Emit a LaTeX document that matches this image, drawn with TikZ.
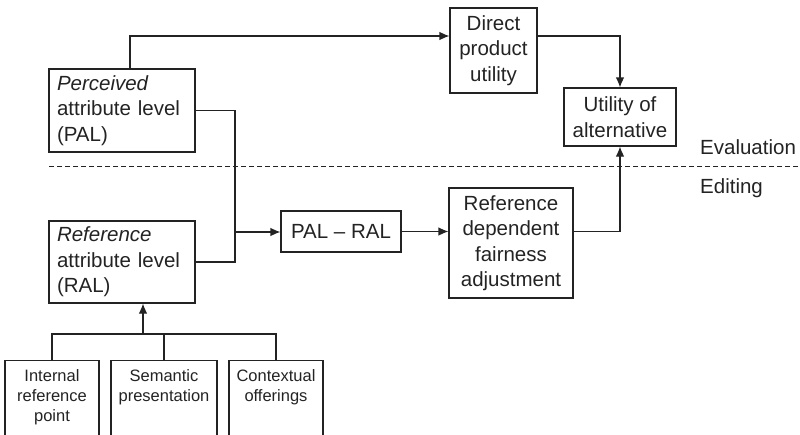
\documentclass[tikz,border=0pt]{standalone}
\usepackage{fontspec}
\setmainfont{Liberation Sans}
\usetikzlibrary{arrows.meta}

\definecolor{ink}{RGB}{35,35,35}
\newcommand{\bigtxt}{\fontsize{20.5pt}{25.5pt}\selectfont}
\newcommand{\smalltxt}{\fontsize{16.5pt}{20pt}\selectfont}

\tikzset{
    box/.style={draw=ink, text=ink, line width=1.1pt, inner sep=0pt, font=\bigtxt, align=center},
    lowbox/.style={draw=ink, text=ink, line width=1.1pt, inner xsep=0pt, inner ysep=9pt,
        font=\smalltxt, align=center, anchor=north, text depth=70pt},
    side/.style={text=ink, font=\bigtxt, inner sep=0pt, anchor=base west},
    link/.style={draw=ink, line width=1.1pt},
    arr/.style={link, -{Latex[length=10pt,width=8.5pt]}}
}

\begin{document}
\begin{tikzpicture}[x=1pt, y=-1pt]
    \clip (0,0) rectangle (800,434);

    % Border between evaluation and editing
    \draw[ink, line width=0.9pt, dash pattern=on 5pt off 3pt] (49,166) -- (800,166);
    \node[side] (eval) at (700,154) {Evaluation};
    \node[side] (edit) at (700,193) {Editing};

    % Attribute levels
    \node[box, minimum width=146, minimum height=83, text width=130, align=left] (pal) at (122,110.5)
        {\textit{Perceived}\\attribute level\\(PAL)};
    \node[box, minimum width=146, minimum height=82, text width=130, align=left] (ral) at (122,262)
        {\textit{Reference}\\attribute level\\(RAL)};

    % Evaluation side
    \node[box, minimum width=87, minimum height=85] (dpu) at (493.5,50.5) {Direct\\product\\utility};
    \node[box, minimum width=112, minimum height=58] (uoa) at (620,117) {Utility of\\alternative};

    % Editing side
    \node[box, minimum width=120, minimum height=41] (diff) at (341,231.5) {PAL -- RAL};
    \node[box, minimum width=124, minimum height=110] (rdf) at (511,243)
        {Reference\\dependent\\fairness\\adjustment};

    % Sources of the reference level
    \node[lowbox, text width=94] (irp) at (52,360) {Internal\\reference\\point};
    \node[lowbox, text width=106] (sp) at (164,360) {Semantic\\presentation};
    \node[lowbox, text width=94] (co) at (276,360) {Contextual\\offerings};

    % Connectors
    \coordinate (bend) at (130,36);
    \coordinate (join) at (235,232);
    \coordinate (fork) at (143,334);
    \draw[arr] (bend |- pal.north) -- (bend) -- (bend -| dpu.west);
    \draw[arr] (dpu.east |- bend) -| (uoa.north);
    \draw[link] (pal.east) -| (join);
    \draw[link] (ral.east) -| (join);
    \draw[arr] (join) -- (join -| diff.west);
    \draw[arr] (diff.east) -- (diff.east -| rdf.west);
    \draw[arr] (rdf.east |- diff.east) -| (uoa.south);
    \draw[link] (irp.north) |- (fork) -| (co.north);
    \draw[link] (sp.north) -- (sp.north |- fork);
    \draw[arr] (fork) -- (fork |- ral.south);

\end{tikzpicture}
\end{document}
